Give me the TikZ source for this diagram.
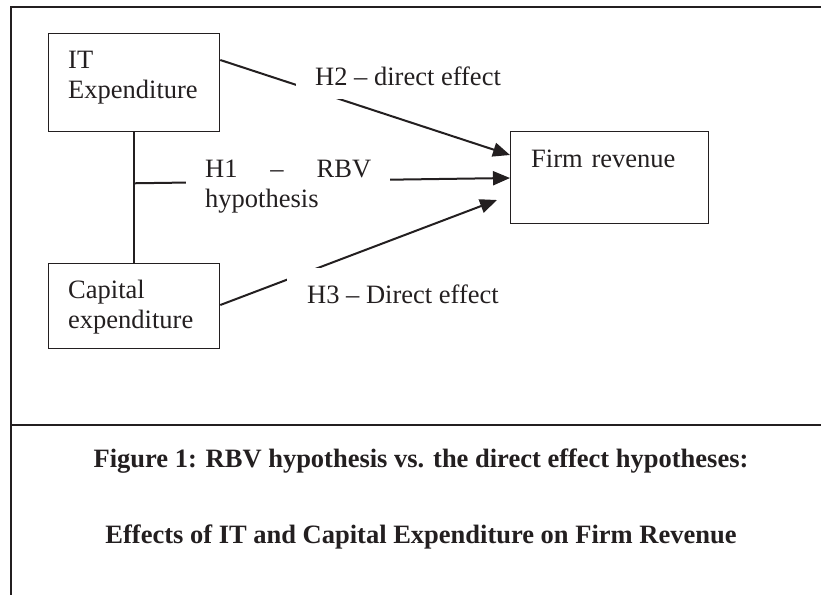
\documentclass[tikz,border=0pt]{standalone}
\usepackage{fontspec}
\setmainfont{Liberation Serif}
\usetikzlibrary{arrows.meta,calc}
\definecolor{ink}{HTML}{231F20}
\begin{document}
\begin{tikzpicture}[x=1pt,y=-1pt,
  every node/.style={font=\fontsize{26.5}{30.5}\selectfont, text=ink},
  box/.style={draw=ink, line width=1.3pt, inner sep=0pt, anchor=north west},
  txt/.style={inner sep=0pt, anchor=base west, text width=#1, align=left},
  conn/.style={draw=ink, line width=2pt},
  arr/.style={conn, -{Triangle[length=17pt,width=14pt]}},
  lbl/.style={fill=white, inner sep=0pt, anchor=base west, text height=18pt, text depth=0pt},
  frameline/.style={draw=ink, line width=2.4pt},
  captxt/.style={font=\bfseries\fontsize{26.5}{30.5}\selectfont, anchor=base, inner sep=0pt}]
\useasboundingbox (0,0) rectangle (821,595);
\fill[white] (0,0) rectangle (821,595);
% frame
\coordinate (ftl) at (11,7);
\coordinate (ftr) at (821,7);
\coordinate (fbl) at (11,595);
\coordinate (dl) at (11,425);
\coordinate (dr) at (821,425);
\draw[frameline] (ftr) -- (ftl) -- (fbl);
\draw[frameline] (dl) -- (dr);
% boxes
\node[box, minimum width=171pt, minimum height=98pt] (it) at (48,33) {};
\node[box, minimum width=171pt, minimum height=85pt] (cap) at (48,263) {};
\node[box, minimum width=198pt, minimum height=92pt] (fr) at (510,131) {};
\node[txt=150pt] (itt) at (68,68) {IT\\Expenditure};
\node[txt=150pt] (capt) at (68,298) {Capital\\expenditure};
\node[txt=170pt] (frt) at (531,167) {Firm revenue};
% connectors
\draw[conn] (it.south) -- (cap.north);
\coordinate (j) at ($(it.south)!0.39!(cap.north)$);
\draw[arr] (j) -- ([yshift=-47pt]fr.north west);
\draw[arr] ([yshift=-27pt]it.north east) -- ([yshift=-24pt]fr.north west);
\draw[arr] ([yshift=-42pt]cap.north east) -- ([xshift=-13pt,yshift=-69pt]fr.north west);
% labels
\node[lbl, inner xsep=19pt, inner ysep=14pt] (h2) at (296,85) {H2 -- direct effect};
\node[lbl, inner xsep=20pt, inner ysep=17pt] (h3) at (287,303) {H3 -- Direct effect};
\node[fill=white, inner xsep=19pt, inner ysep=6pt, anchor=base west, text width=166pt, align=left] (h1) at (186,177) {H1\hfill--\hfill RBV\\hypothesis};
% caption
\node[captxt] (cap1) at (421,467) {Figure 1: RBV hypothesis vs. the direct effect hypotheses:};
\node[captxt] (cap2) at (421,543) {Effects of IT and Capital Expenditure on Firm Revenue};
\end{tikzpicture}
\end{document}
